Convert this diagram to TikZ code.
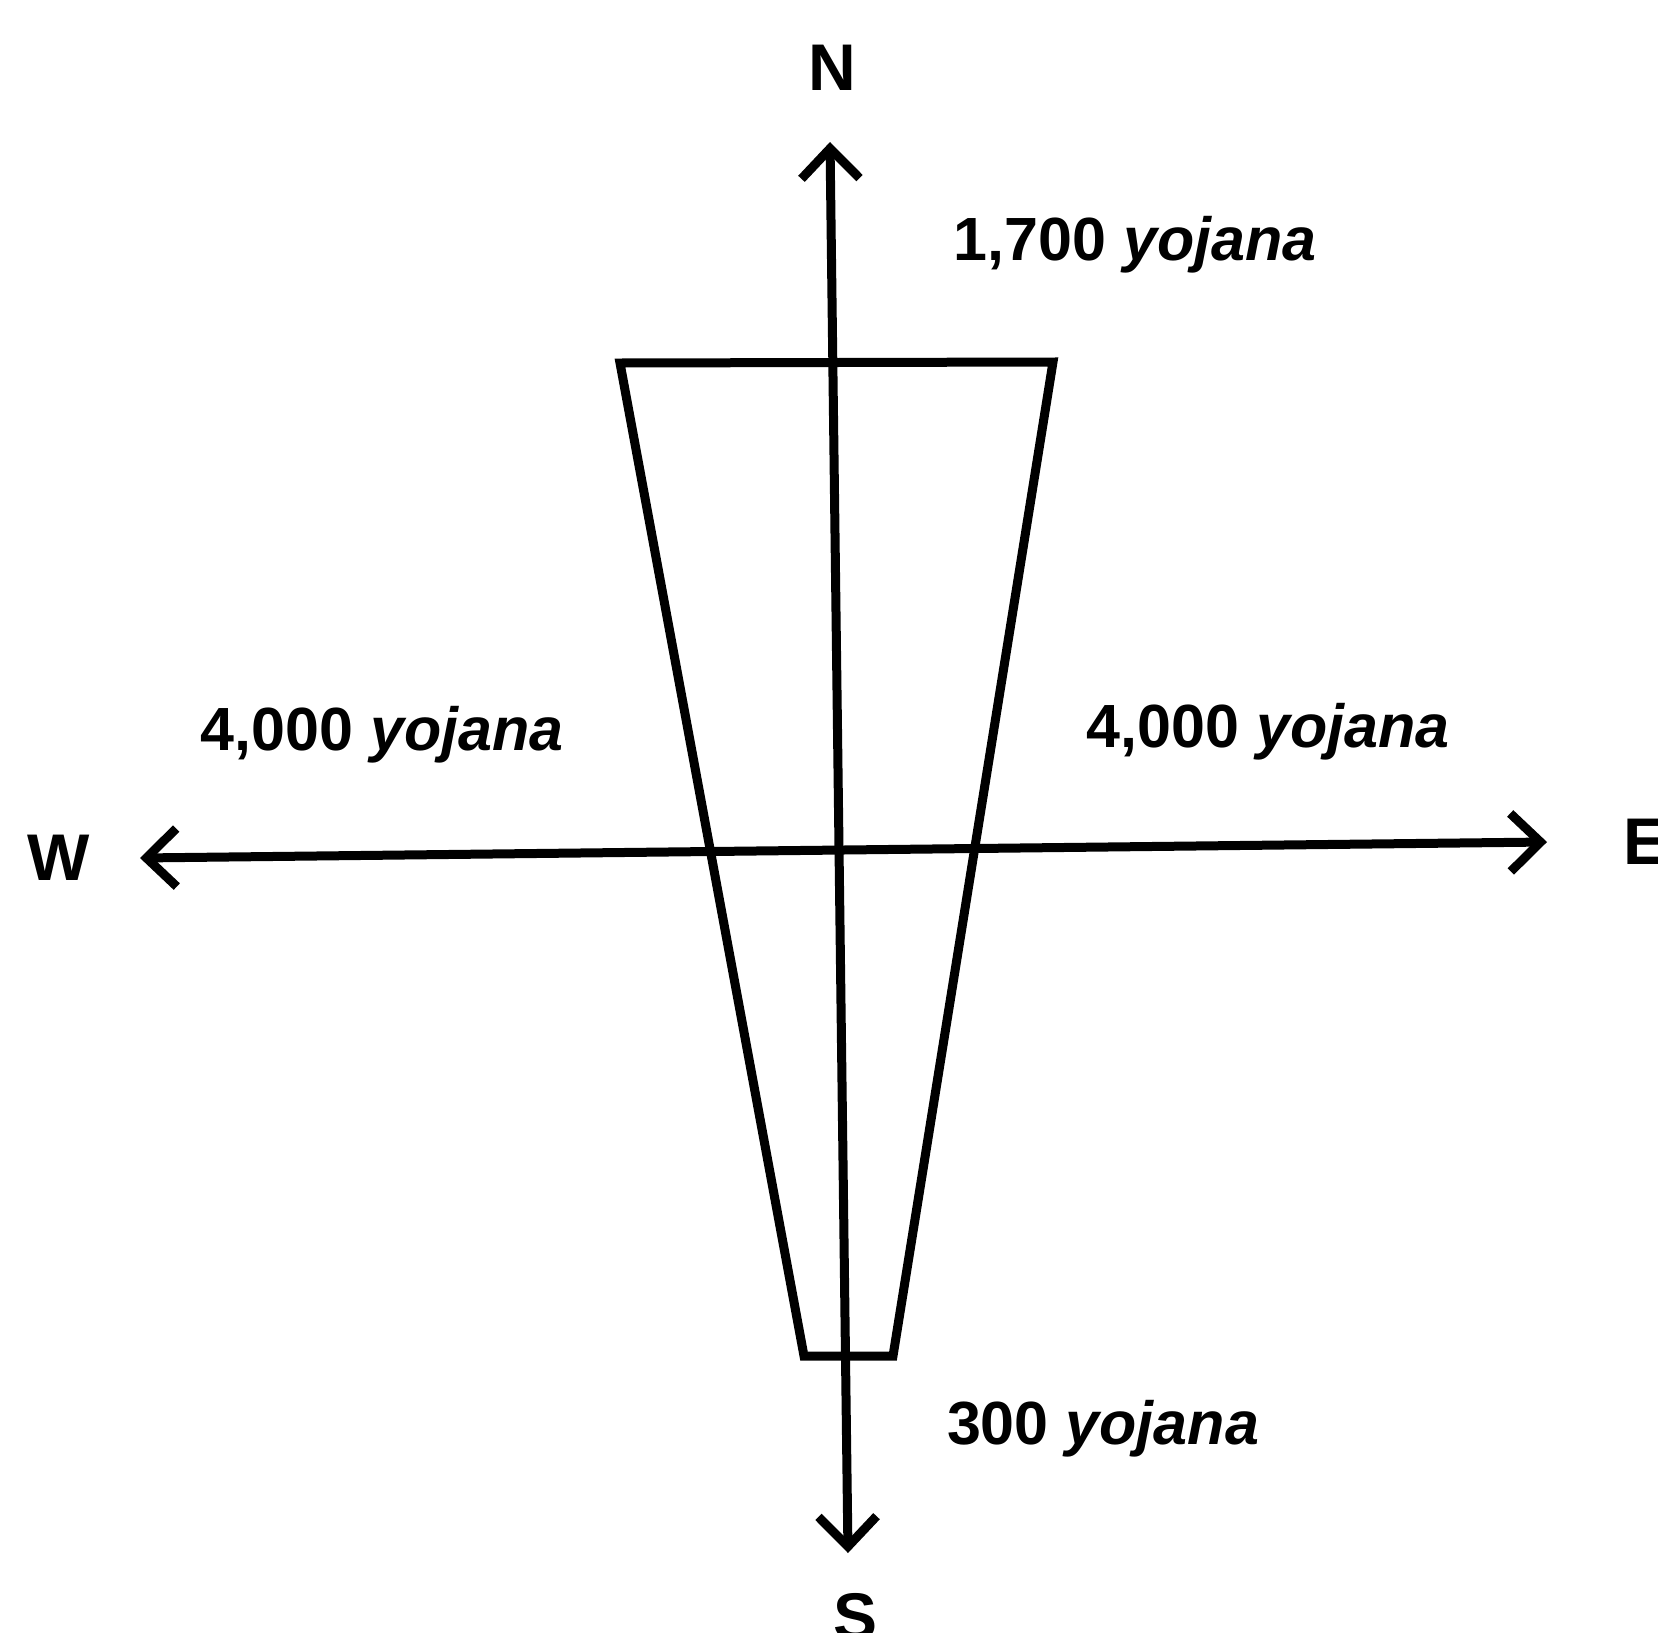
\documentclass[tikz,border=0pt]{standalone}
\usepackage{fontspec}
\setmainfont{Liberation Sans}
\usetikzlibrary{arrows.meta}
\begin{document}
\begin{tikzpicture}[x=1pt,y=-1pt,
  axisline/.style={line width=9pt, {Straight Barb[length=30pt,width=58pt,line width=9pt]}-{Straight Barb[length=30pt,width=58pt,line width=9pt]}},
  trapline/.style={line width=9pt, line join=miter},
  lbl/.style={font=\fontsize{61}{70}\selectfont\bfseries, inner sep=0pt},
  dirlbl/.style={font=\fontsize{66}{70}\selectfont\bfseries, inner sep=0pt}]
\useasboundingbox (0,0) rectangle (1658,1633);
\coordinate (ntip) at (830,142);
\coordinate (stip) at (848,1553);
\coordinate (wtip) at (140,858);
\coordinate (etip) at (1547,842);
\coordinate (tl) at (620,363);
\coordinate (tr) at (1053,362);
\coordinate (br) at (893,1356);
\coordinate (bl) at (804,1356);
\draw[trapline] (tl) -- (tr) -- (br) -- (bl) -- cycle;
\draw[axisline] (ntip) -- (stip);
\draw[axisline] (wtip) -- (etip);
\node[dirlbl] (N) at (832,68) {N};
\node[dirlbl] (S) at (856,1617) {S};
\node[dirlbl] (W) at (59,858) {W};
\node[dirlbl, anchor=west] (E) at (1623,842) {E};
\node[lbl] (l1700) at (1135,245) {1,700 \textit{yojana}};
\node[lbl] (lw) at (382,735) {4,000 \textit{yojana}};
\node[lbl] (le) at (1268,732) {4,000 \textit{yojana}};
\node[lbl] (l300) at (1103,1429) {300 \textit{yojana}};
\end{tikzpicture}
\end{document}
